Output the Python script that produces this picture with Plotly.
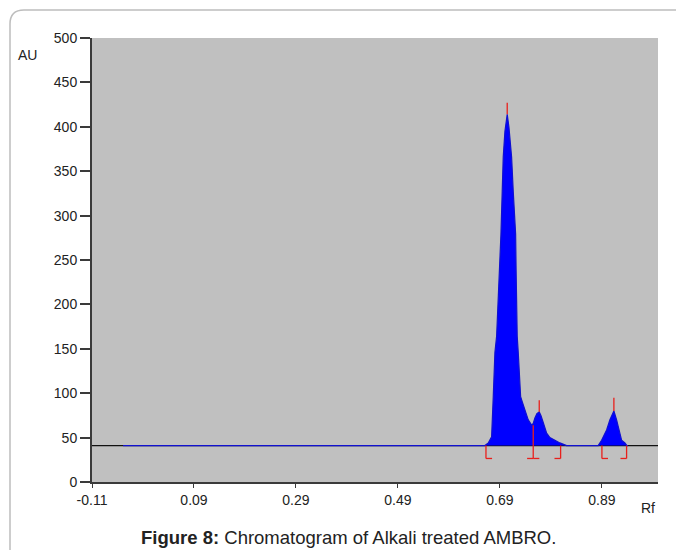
import plotly.graph_objects as go

# ---- data ----
rf_tick_vals = [-0.11, 0.09, 0.29, 0.49, 0.69, 0.89]
rf_tick_text = ["-0.11", "0.09", "0.29", "0.49", "0.69", "0.89"]
au_tick_vals = [0, 50, 100, 150, 200, 250, 300, 350, 400, 450, 500]

baseline_au = 41

trace_rf = [-0.049, 0.6606, 0.6671, 0.6737, 0.6769, 0.6782, 0.6802, 0.6835,
            0.6867, 0.6900, 0.6920, 0.6945, 0.6965, 0.6998, 0.7043, 0.7076,
            0.7129, 0.7161, 0.7208, 0.7217, 0.7227, 0.7239, 0.7259, 0.7278,
            0.7306, 0.7345, 0.7390, 0.7455, 0.7522, 0.7553, 0.7586, 0.7625,
            0.7671, 0.7704, 0.7749, 0.7816, 0.7880, 0.8012, 0.8076, 0.8208,
            0.8827, 0.8894, 0.8992, 0.9057, 0.9135, 0.9188, 0.9239, 0.9286,
            0.9351, 0.9390, 0.9410]
trace_au = [41, 41, 44, 51, 96, 126, 146, 164,
            202, 239, 279, 327, 366, 395, 414, 400,
            366, 327, 279, 239, 202, 164, 146, 126,
            96, 89, 81, 70, 64, 66, 72, 77,
            79, 75, 67, 55, 50, 45.5, 44, 41,
            41, 47, 58.6, 70, 80, 70, 58.6, 47,
            44, 41, 41]
assert len(trace_rf) == len(trace_au)

apex_rf = [0.7043, 0.7671, 0.9135]
apex_top = [427, 92, 95]
apex_au = [414, 79, 80]

bracket_rf = [0.6626, 0.7553, 0.8090, 0.8900, 0.9384]
bracket_top = [41, 64, 41, 41, 41]
bracket_kind = ["left", "both", "right", "left", "right"]
bracket_low = 26.5

x_range = [-0.11, 1.0]
y_range = [0, 500]

# ---- figure ----
W, H = 676, 550
ML, MR, MT, MB = 92, 18, 38, 68
PW, PH = W - ML - MR, H - MT - MB


def px(xp):
    return (xp - ML) / PW


def py(yp):
    return (H - MB - yp) / PH


fig = go.Figure()

# black baseline over the full width
fig.add_trace(go.Scatter(x=x_range, y=[baseline_au, baseline_au], mode="lines",
                         line=dict(color="#111111", width=1.2),
                         hoverinfo="skip", showlegend=False))
# invisible base for fill
fig.add_trace(go.Scatter(x=[trace_rf[0], trace_rf[-1]], y=[baseline_au, baseline_au],
                         mode="lines", line=dict(color="rgba(0,0,0,0)", width=0),
                         hoverinfo="skip", showlegend=False))
fig.add_trace(go.Scatter(x=trace_rf, y=trace_au, mode="lines",
                         line=dict(color="#1010d0", width=1.2),
                         fill="tonexty", fillcolor="#0000ff",
                         hoverinfo="skip", showlegend=False))

# red integration markers
foot = 0.012
rx, ry = [], []
for x, t, a in zip(apex_rf, apex_top, apex_au):
    rx += [x, x, None]
    ry += [t, a, None]
for x, t, k in zip(bracket_rf, bracket_top, bracket_kind):
    rx += [x, x, None]
    ry += [t, bracket_low, None]
    if k in ("left", "both"):
        rx += [x, x + foot, None]
        ry += [bracket_low, bracket_low, None]
    if k in ("right", "both"):
        rx += [x - foot, x, None]
        ry += [bracket_low, bracket_low, None]
fig.add_trace(go.Scatter(x=rx, y=ry, mode="lines",
                         line=dict(color="#e8201c", width=1.3),
                         hoverinfo="skip", showlegend=False))

font_family = "Liberation Sans, Arial, sans-serif"

fig.update_layout(
    width=W, height=H, autosize=False,
    margin=dict(l=ML, r=MR, t=MT, b=MB),
    paper_bgcolor="white", plot_bgcolor="#c0c0c0",
    font=dict(family=font_family, size=14, color="#222222"),
    xaxis=dict(range=x_range, tickvals=rf_tick_vals, ticktext=rf_tick_text,
               showgrid=False, zeroline=False, showline=True,
               linecolor="#3a3a3a", linewidth=2, ticks="outside",
               ticklen=4, tickcolor="#3a3a3a", tickwidth=1,
               tickfont=dict(size=14, color="#222222")),
    yaxis=dict(range=y_range, tickvals=au_tick_vals,
               showgrid=False, zeroline=False, showline=True,
               linecolor="#3a3a3a", linewidth=2, ticks="outside",
               ticklen=10, tickcolor="#3a3a3a", tickwidth=1.5,
               tickfont=dict(size=14, color="#222222")),
    annotations=[
        dict(text="AU", x=px(27.5), y=py(55), xref="paper", yref="paper",
             xanchor="center", yanchor="middle",
             showarrow=False, font=dict(size=14, color="#222222")),
        dict(text="Rf", x=px(648), y=py(508), xref="paper", yref="paper",
             xanchor="center", yanchor="middle",
             showarrow=False, font=dict(size=14, color="#222222")),
        dict(text="<b>Figure 8:</b> Chromatogram of Alkali treated AMBRO.",
             x=px(348), y=py(537), xref="paper", yref="paper",
             xanchor="center", yanchor="middle",
             showarrow=False, font=dict(size=18.5, color="#222222")),
    ],
    shapes=[
        dict(type="path", xref="paper", yref="paper",
             path=(f"M {px(10)},{py(552)} L {px(10)},{py(24)} "
                   f"Q {px(10)},{py(10)} {px(24)},{py(10)} L {px(680)},{py(10)}"),
             line=dict(color="#bdbdbd", width=1.5)),
    ],
)

fig.write_html("out.html",
               config={"displayModeBar": False},
               post_script="document.body.style.margin='0px';"
                           "document.body.style.overflow='hidden';")
